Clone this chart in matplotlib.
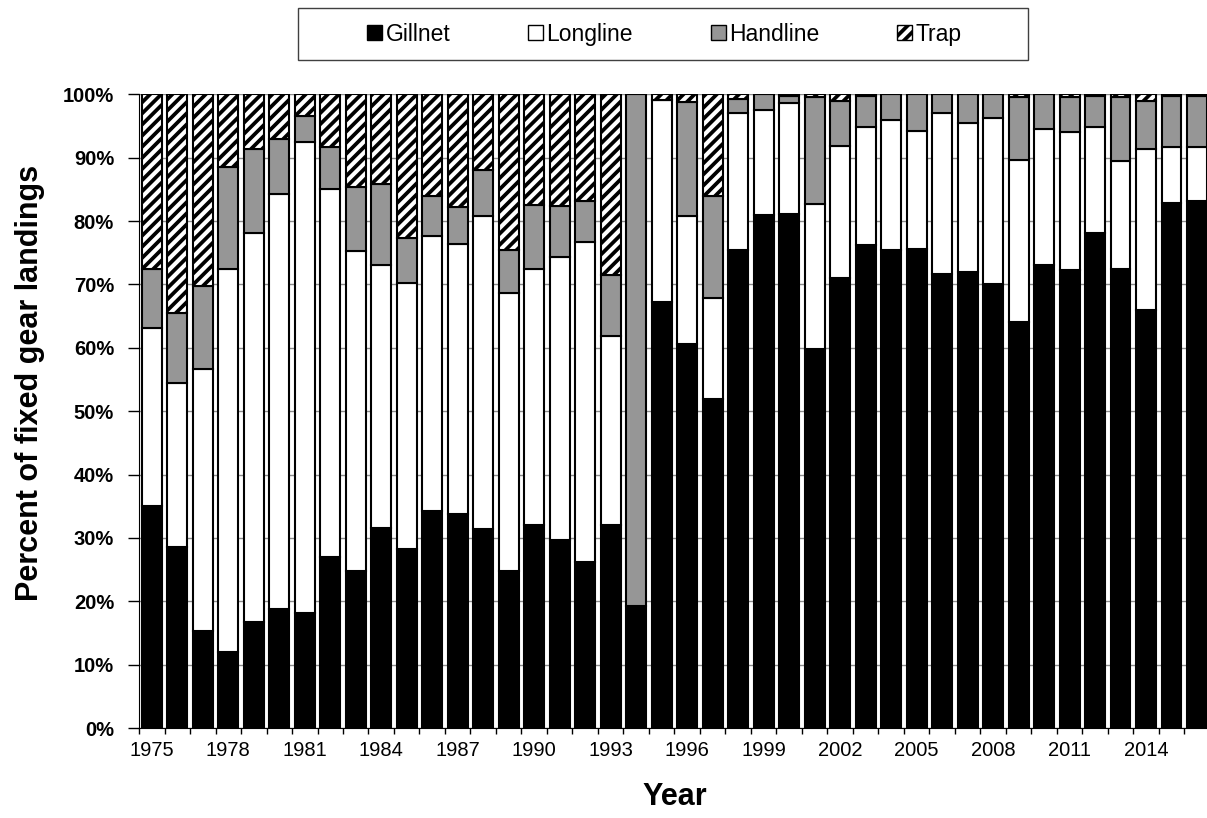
import numpy as np
import matplotlib
matplotlib.use("Agg")
import matplotlib.pyplot as plt
from matplotlib.patches import Patch, Rectangle

plt.rcParams['font.family'] = ['Liberation Sans', 'DejaVu Sans']
plt.rcParams['hatch.linewidth'] = 2.7

years = list(range(1975, 2017))

# cumulative tops (percent)
gill_top = [35.0, 28.5, 15.3, 12.0, 16.8, 18.8, 18.2, 27.0, 24.7, 31.6,
            28.3, 34.2, 33.7, 31.4, 24.7, 32.0, 29.6, 26.2, 32.0, 19.2,
            67.3, 60.6, 51.9, 75.4, 81.0, 81.1, 59.8, 71.0, 76.2, 75.4,
            75.6, 71.6, 72.0, 70.1, 64.0, 73.1, 72.2, 78.1, 72.4, 65.9,
            82.9, 83.2]
long_top = [63.2, 54.5, 56.7, 72.5, 78.1, 84.3, 92.5, 85.0, 75.3, 73.0,
            70.2, 77.6, 76.4, 80.8, 68.6, 72.4, 74.3, 76.7, 61.8, 19.2,
            99.1, 80.8, 67.8, 97.1, 97.6, 98.7, 82.7, 91.9, 94.8, 96.0,
            94.2, 97.1, 95.5, 96.3, 89.7, 94.6, 94.0, 94.9, 89.4, 91.3,
            91.7, 91.7]
hand_top = [72.5, 65.5, 69.7, 88.5, 91.3, 93.0, 96.6, 91.7, 85.4, 85.9,
            77.4, 83.9, 82.2, 88.1, 75.4, 82.5, 82.3, 83.2, 71.5, 100.0,
            99.1, 98.8, 83.9, 99.3, 100.0, 99.7, 99.6, 99.0, 99.8, 100.0,
            100.0, 100.0, 100.0, 100.0, 99.5, 100.0, 99.6, 99.7, 99.6, 99.0,
            99.8, 99.8]

gillnet = np.array(gill_top)
longline = np.array(long_top) - gillnet
handline = np.array(hand_top) - np.array(long_top)
trap = 100 - np.array(hand_top)

fig = plt.figure(figsize=(12.07, 8.18), dpi=100)
ax = fig.add_axes([0.1152, 0.110, 0.8871, 0.7747])

w = 0.78
kw = dict(width=w, edgecolor='black', linewidth=1.5, zorder=3)
ax.bar(years, gillnet, color='black', **kw)
ax.bar(years, longline, bottom=gillnet, color='white', **kw)
ax.bar(years, handline, bottom=gillnet + longline, color='#969696', **kw)
ax.bar(years, trap, bottom=gillnet + longline + handline, color='white',
       hatch='///', **kw)

ax.set_xlim(1974.5, 2016.5)
ax.set_ylim(0, 100)
ax.set_yticks(np.arange(0, 101, 10))
ax.set_yticklabels([f'{v}%' for v in range(0, 101, 10)],
                   fontsize=14.5, fontweight='bold')
ax.yaxis.grid(True, color='#8c8c8c', linewidth=1.0, zorder=0)
ax.set_axisbelow(True)

ax.set_xticks(np.arange(1974.5, 2016.6, 1.0))
ax.set_xticklabels([])
ax.set_xticks(years[::3], minor=True)
ax.set_xticklabels([str(y) for y in years[::3]], minor=True, fontsize=14.5)
ax.tick_params(axis='x', which='major', length=4.5, width=1, direction='out')
ax.tick_params(axis='x', which='minor', length=0, pad=9)
ax.tick_params(axis='y', length=8, width=1, direction='out', pad=10)

for s in ['top', 'right']:
    ax.spines[s].set_visible(False)

ax.set_ylabel('Percent of fixed gear landings', fontsize=22, fontweight='bold')
ax.yaxis.set_label_coords(-0.088, 0.545)
ax.set_xlabel('Year', fontsize=22, fontweight='bold')
ax.xaxis.set_label_coords(0.5, -0.085)

handles = [Patch(facecolor='black', edgecolor='black'),
           Patch(facecolor='white', edgecolor='black'),
           Patch(facecolor='#969696', edgecolor='black'),
           Patch(facecolor='white', edgecolor='black', hatch='///')]
fig.legend(handles, ['Gillnet', 'Longline', 'Handline', 'Trap'],
           loc='center', bbox_to_anchor=(0.5505, 0.958), ncol=4,
           fontsize=16.5, frameon=False,
           handlelength=0.65, handleheight=0.65, handletextpad=0.15,
           columnspacing=3.4)
fig.patches.append(Rectangle((0.2469, 0.9267), 0.6048, 0.0636,
                             transform=fig.transFigure, fill=False,
                             edgecolor='#404040', linewidth=1.0))

fig.savefig('out.png', dpi=100)
